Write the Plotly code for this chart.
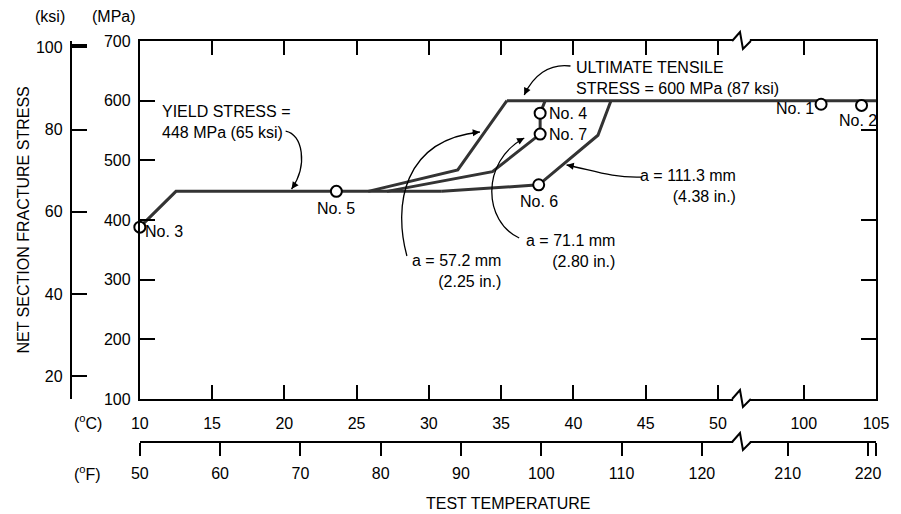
import plotly.graph_objects as go

# ---------------- data (deg C, MPa) ----------------
yield_T = [10.0, 12.5, 30.9]
yield_S = [388, 448, 448]
a57_T = [25.8, 32.0, 35.4]
a57_S = [448, 484, 600]
a71_T = [27.1, 34.4, 37.7, 37.7, 38.05]
a71_S = [448, 481, 544, 579, 600]
a111_T = [30.9, 37.6, 41.7, 42.6]
a111_S = [448, 459, 542, 600]
uts_T = [35.4, 105.0]
uts_S = [600, 600]

spec_names = ["No. 1", "No. 2", "No. 3", "No. 4", "No. 5", "No. 6", "No. 7"]
spec_T = [101.2, 104.0, 10.0, 37.7, 23.6, 37.6, 37.7]
spec_S = [594, 592, 388, 579, 448, 459, 544]

c_ticks = [10, 15, 20, 25, 30, 35, 40, 45, 50, 100, 105]
f_ticks = [50, 60, 70, 80, 90, 100, 110, 120, 210, 220]
mpa_ticks = [100, 200, 300, 400, 500, 600, 700]
ksi_ticks = [20, 40, 60, 80, 100]
right_ticks_mpa = [551.6, 400, 300, 200]

MPA_PER_KSI = 6.895

# ---------------- broken temperature axis ----------------
BREAK_SHIFT = 44.06   # deg C removed between 50 and 100 deg C


def tx(t):
    return t if t < 75 else t - BREAK_SHIFT


def f2c(f):
    return (f - 32) / 1.8


X0, X1 = tx(10), tx(105)

# ---------------- layout geometry ----------------
OFF = 8                       # page body margin
W, H = 901 - OFF, 514 - OFF
ML, MR, MT, MB = 60 - OFF, 13, 41 - OFF, 40
PW, PH = W - ML - MR, H - MT - MB
XDOM0 = (141 - OFF - ML) / PW
YDOM0 = (H - MB - (399 - OFF)) / PH


def ppx(x):
    return (x - OFF - ML) / PW


def ppy(y):
    return (H - MB - (y - OFF)) / PH


FONT = dict(family="Liberation Sans, Arial, sans-serif", size=16, color="black")
LINE = dict(color="#333333", width=3)

fig = go.Figure()
for T, S in [(yield_T, yield_S), (a57_T, a57_S), (a71_T, a71_S),
             (a111_T, a111_S), (uts_T, uts_S)]:
    fig.add_trace(go.Scatter(x=[tx(t) for t in T], y=S, mode="lines",
                             line=LINE, hoverinfo="skip", showlegend=False))

fig.add_trace(go.Scatter(
    x=[tx(t) for t in spec_T], y=spec_S, mode="markers", cliponaxis=False,
    marker=dict(symbol="circle", size=11, color="white",
                line=dict(color="black", width=2)),
    showlegend=False, hoverinfo="skip"))

annotations = []
label_pos = {
    "No. 1": ("right", -5, -4), "No. 2": ("center", -4, -15),
    "No. 3": ("left", 3, -4), "No. 4": ("left", 7, 0),
    "No. 5": ("center", 0, -17), "No. 6": ("center", 0, -17),
    "No. 7": ("left", 7, 0),
}
for n, t, s in zip(spec_names, spec_T, spec_S):
    xa, xs, ys = label_pos[n]
    annotations.append(dict(x=tx(t), y=s, text=n, showarrow=False, xanchor=xa,
                            yanchor="middle", xshift=xs, yshift=ys, font=FONT))

# callout texts (display-x, MPa)
callouts = [
    (11.43, 564, "YIELD STRESS =<br>448 MPa (65 ksi)", "left"),
    (40.07, 638, "ULTIMATE TENSILE<br>STRESS = 600 MPa (87 ksi)", "left"),
    (51.40, 457, "a = 111.3 mm<br>(4.38 in.)", "right"),
    (43.01, 348, "a = 71.1 mm<br>(2.80 in.)", "right"),
    (35.16, 314, "a = 57.2 mm<br>(2.25 in.)", "right"),
]
for x, y, t, anc in callouts:
    annotations.append(dict(x=x, y=y, text=t, showarrow=False, xanchor=anc,
                            yanchor="middle", align=anc, font=FONT))

# curved leader arrows (bezier in display-x / MPa)
curves = [
    [(20.09, 549.1), (21.25, 544.1), (21.66, 492.2), (20.50, 451.9)],
    [(39.80, 658.1), (38.30, 663.1), (37.21, 641.3), (36.60, 609.5)],
    [(44.70, 472.0), (42.60, 470.4), (41.30, 483.8), (39.53, 492.2)],
    [(36.25, 369.8), (33.80, 396.6), (33.53, 497.2), (36.60, 537.4)],
    [(28.48, 339.6), (27.53, 425.1), (28.21, 534.1), (33.53, 547.5)],
]
KX = 747 / (X1 - X0)
KY = 358 / 600.0
shapes = []
for c in curves:
    (a, b), (c1x, c1y), (c2x, c2y), (e, f) = c
    shapes.append(dict(type="path", xref="x", yref="y",
                       path=f"M{a},{b} C{c1x},{c1y} {c2x},{c2y} {e},{f}",
                       line=dict(color="black", width=1.3)))
    dxp = (c2x - e) * KX
    dyp = -(c2y - f) * KY
    n = (dxp ** 2 + dyp ** 2) ** 0.5
    annotations.append(dict(x=e, y=f, ax=dxp / n * 9, ay=dyp / n * 9, text="",
                            showarrow=True, arrowhead=2, arrowsize=1.1,
                            arrowwidth=1.3, arrowcolor="black", standoff=0))

# axis breaks (zigzag) on the three horizontal axis lines
bx0, bx1 = 742, 761
for yl in [399, 41, 442]:
    shapes.append(dict(type="rect", xref="paper", yref="paper",
                       x0=ppx(bx0 + 1), x1=ppx(bx1 - 1), y0=ppy(yl + 4), y1=ppy(yl - 4),
                       fillcolor="white", line=dict(width=0), layer="above"))
    shapes.append(dict(type="path", xref="paper", yref="paper", layer="above",
                       path=(f"M{ppx(bx0)},{ppy(yl)} L{ppx(bx0 + 8)},{ppy(yl - 9)} "
                             f"L{ppx(bx0 + 11)},{ppy(yl + 8)} L{ppx(bx1)},{ppy(yl)}"),
                       line=dict(color="black", width=2)))

# axis titles / unit labels
for xp, yp, t, ang in [
    (50, 17, "(ksi)", 0), (115, 17, "(MPa)", 0),
    (88, 422, "(<sup>o</sup>C)", 0), (88, 473, "(<sup>o</sup>F)", 0),
    (515, 504, "TEST TEMPERATURE", 0),
    (22, 220, "NET SECTION FRACTURE STRESS", -90),
]:
    annotations.append(dict(x=ppx(xp), y=ppy(yp), xref="paper", yref="paper",
                            text=t, showarrow=False, textangle=ang,
                            xanchor="center", yanchor="middle", font=FONT))

axis_common = dict(showgrid=False, zeroline=False, linecolor="black", linewidth=2,
                   tickcolor="black", tickwidth=2, tickfont=FONT)

fig.update_layout(
    width=W, height=H, margin=dict(l=ML, r=MR, t=MT, b=MB),
    plot_bgcolor="white", paper_bgcolor="white", showlegend=False,
    xaxis=dict(domain=[XDOM0, 1], range=[X0, X1], tickmode="array",
               tickvals=[tx(t) for t in c_ticks], ticktext=[str(t) for t in c_ticks],
               ticks="inside", ticklen=14, showline=True, mirror="ticks",
               ticklabelstandoff=9, **axis_common),
    xaxis2=dict(overlaying="x", anchor="free", position=ppy(442), side="bottom",
                range=[X0, X1], tickmode="array",
                tickvals=[tx(f2c(f)) for f in f_ticks] + [X1],
                ticktext=[str(f) for f in f_ticks] + [""],
                ticks="outside", ticklen=13, showline=True,
                ticklabelstandoff=4, **axis_common),
    yaxis=dict(domain=[YDOM0, 1], range=[100, 700], tickmode="array",
               tickvals=mpa_ticks, ticks="inside", ticklen=15, showline=True,
               mirror=True, ticklabelstandoff=4, **axis_common),
    yaxis2=dict(overlaying="y", anchor="free", position=ppx(71), side="left",
                range=[100 / MPA_PER_KSI, 700 / MPA_PER_KSI], tickmode="array",
                tickvals=[14.56] + ksi_ticks + [100.45],
                ticktext=[""] + [str(k) for k in ksi_ticks] + [""],
                ticks="inside", ticklen=15, showline=True,
                ticklabelstandoff=4, **axis_common),
    yaxis3=dict(overlaying="y", anchor="x", side="right", range=[100, 700],
                tickmode="array", tickvals=right_ticks_mpa, ticks="inside",
                ticklen=15, showticklabels=False, showline=False,
                showgrid=False, zeroline=False, tickcolor="black", tickwidth=2),
    annotations=annotations, shapes=shapes,
)
# empty traces that activate the extra axes
fig.add_trace(go.Scatter(x=[None], y=[None], xaxis="x2", yaxis="y2", showlegend=False))
fig.add_trace(go.Scatter(x=[None], y=[None], xaxis="x", yaxis="y3", showlegend=False))

fig.write_html("out.html", config={"displayModeBar": False})
